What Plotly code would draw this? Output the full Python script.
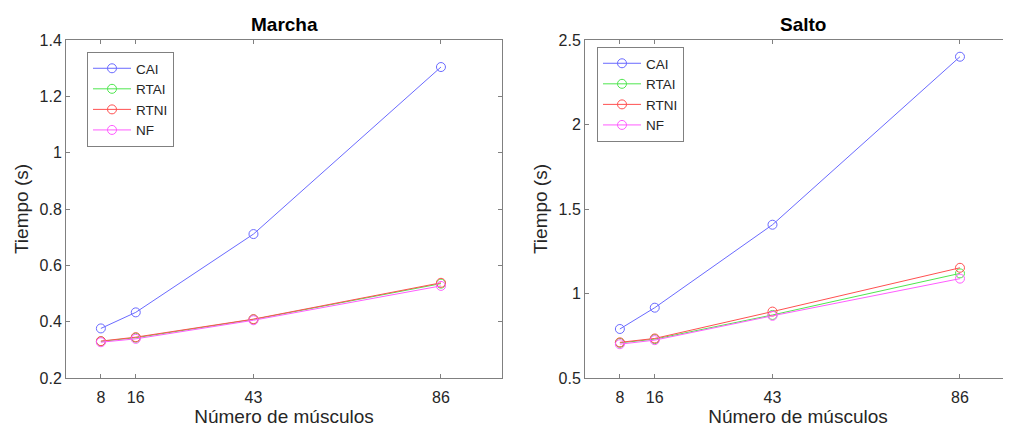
import plotly.graph_objects as go

muscles = [8, 16, 43, 86]
series_names = ["CAI", "RTAI", "RTNI", "NF"]
colors = ["#6a6aff", "#4fe64f", "#ff5050", "#ff5cff"]

marcha_cai = [0.376, 0.433, 0.711, 1.304]
marcha_rtai = [0.330, 0.343, 0.408, 0.535]
marcha_rtni = [0.331, 0.345, 0.409, 0.538]
marcha_nf = [0.327, 0.339, 0.405, 0.527]

salto_cai = [0.790, 0.916, 1.407, 2.401]
salto_rtai = [0.708, 0.730, 0.873, 1.119]
salto_rtni = [0.711, 0.734, 0.893, 1.152]
salto_nf = [0.700, 0.724, 0.868, 1.088]

marcha = [marcha_cai, marcha_rtai, marcha_rtni, marcha_nf]
salto = [salto_cai, salto_rtai, salto_rtni, salto_nf]

# page body has an 8px margin; figure coordinates = page coordinates - 8
OFF = 8
W, H = 1011 - OFF, 428 - OFF
FONT = "Arial, Liberation Sans, Helvetica, sans-serif"
AX = "#808080"
TXT = "#262626"


def px(x):
    return (x - OFF) / W


def py(y):
    return 1 - (y - OFF) / H


fig = go.Figure()
for name, col, ys in zip(series_names, colors, marcha):
    fig.add_trace(go.Scatter(x=muscles, y=ys, name=name, mode="lines+markers",
                             line=dict(color=col, width=1),
                             marker=dict(symbol="circle-open", size=9, color=col, line=dict(width=1, color=col)),
                             xaxis="x", yaxis="y", legend="legend"))
for name, col, ys in zip(series_names, colors, salto):
    fig.add_trace(go.Scatter(x=muscles, y=ys, name=name, mode="lines+markers",
                             line=dict(color=col, width=1),
                             marker=dict(symbol="circle-open", size=9, color=col, line=dict(width=1, color=col)),
                             xaxis="x2", yaxis="y2", legend="legend2"))

ydom = [py(378), py(40)]
axcommon = dict(showline=True, linecolor=AX, linewidth=1, mirror="ticks", ticks="inside",
                ticklen=4, tickcolor=AX, showgrid=False, zeroline=False, automargin=False,
                tickfont=dict(family=FONT, size=16, color=TXT))
xaxcommon = dict(axcommon, ticklabelstandoff=5)
xt = dict(text="Número de músculos", font=dict(size=19, color=TXT), standoff=4)
yt = dict(text="Tiempo (s)", font=dict(size=19, color=TXT), standoff=5)
legfont = dict(family=FONT, size=13.5, color=TXT)

fig.update_layout(
    width=W, height=H, margin=dict(l=0, r=0, t=0, b=0),
    paper_bgcolor="white", plot_bgcolor="white",
    font=dict(family=FONT, color=TXT),
    xaxis=dict(domain=[px(66), px(502)], range=[0, 100], tickvals=muscles, anchor="y",
               title=xt, **xaxcommon),
    yaxis=dict(domain=ydom, range=[0.2, 1.4], dtick=0.2, tickformat=".1~f", anchor="x",
               title=yt, **axcommon),
    xaxis2=dict(domain=[px(585), 1.0], range=[0, 97.7], tickvals=muscles, anchor="y2",
                title=xt, **xaxcommon),
    yaxis2=dict(domain=ydom, range=[0.5, 2.5], dtick=0.5, tickformat=".1~f", anchor="x2",
                title=yt, **axcommon),
    legend=dict(x=px(87), y=py(52), xanchor="left", yanchor="top", bgcolor="white",
                bordercolor=AX, borderwidth=1, font=legfont,
                itemwidth=38, tracegroupgap=0),
    legend2=dict(x=px(597), y=py(47), xanchor="left", yanchor="top", bgcolor="white",
                 bordercolor=AX, borderwidth=1, font=legfont,
                 itemwidth=38, tracegroupgap=0),
    annotations=[
        dict(text="<b>Marcha</b>", x=px(284), y=py(25), xref="paper", yref="paper",
             xanchor="center", yanchor="middle",
             showarrow=False, font=dict(family=FONT, size=19, color="black")),
        dict(text="<b>Salto</b>", x=px(803), y=py(25), xref="paper", yref="paper",
             xanchor="center", yanchor="middle",
             showarrow=False, font=dict(family=FONT, size=19, color="black")),
    ],
)

fig.write_html("out.html")
